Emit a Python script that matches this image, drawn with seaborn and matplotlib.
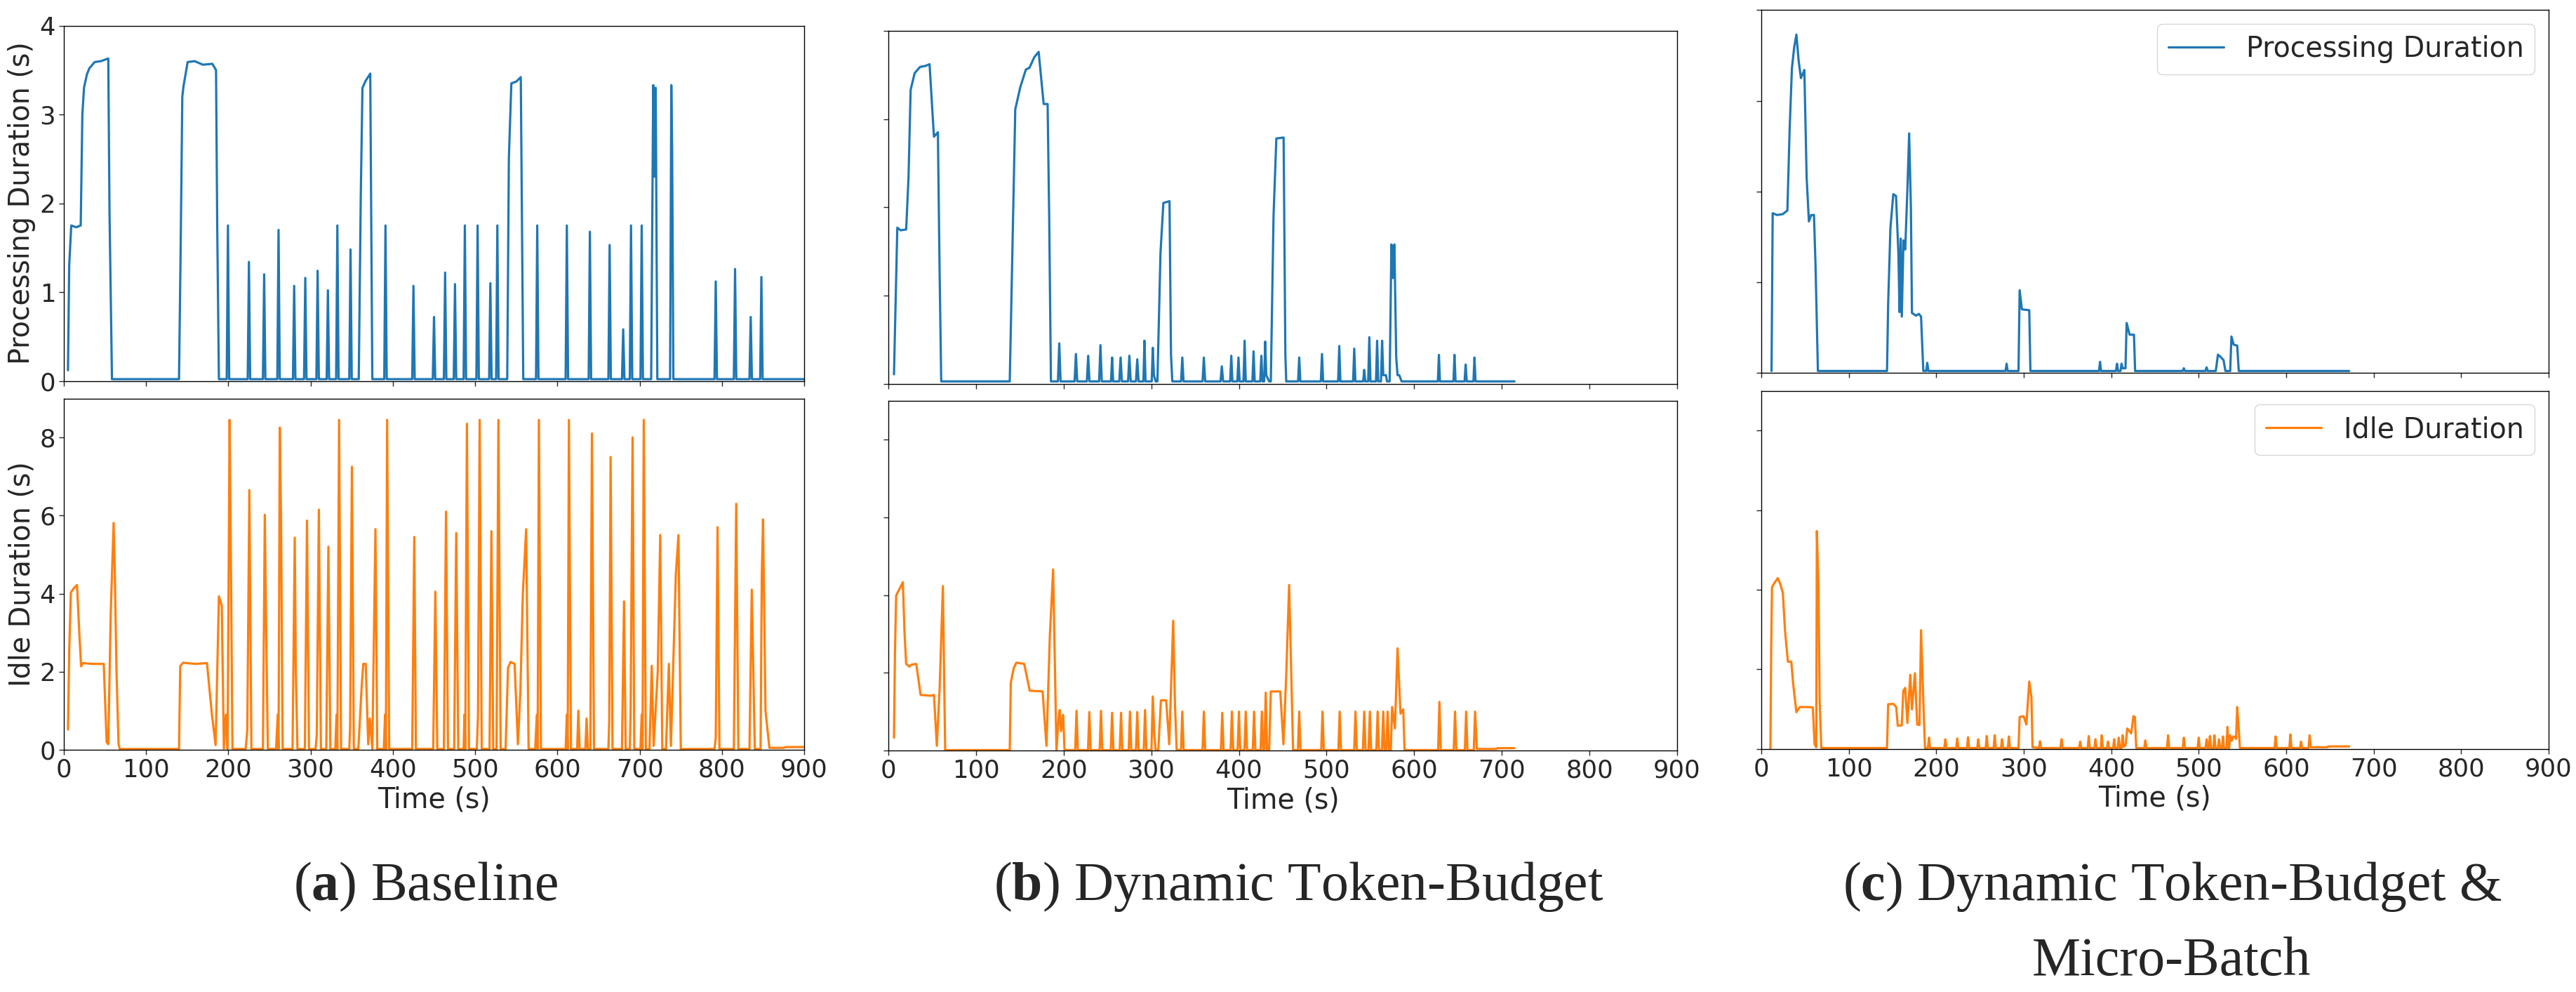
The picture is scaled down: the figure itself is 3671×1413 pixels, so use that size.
import numpy as np
import pandas as pd
import matplotlib
matplotlib.use("Agg")
import matplotlib.pyplot as plt
import seaborn as sns

# (time s, duration s) breakpoints
proc_a = [
    (5, 0.12), (6.5, 1.3), (9, 1.75), (15, 1.73), (20.5, 1.75), (22.5, 3.0), (24.5, 3.3), (28, 3.45),
    (31, 3.52), (37.5, 3.59), (45, 3.6), (54, 3.63), (55.5, 1.9), (58.5, 0.02),
    (140, 0.02), (142, 1.5), (144, 3.2), (145.5, 3.32), (150.5, 3.59), (159, 3.6), (169, 3.56),
    (180.5, 3.57), (185, 3.5), (186.5, 1.7), (188.5, 0.02),
    (198, 0.02), (199.5, 1.75), (201, 0.02), (223.5, 0.02), (225, 1.34), (226.5, 0.02),
    (242, 0.02), (243.5, 1.2), (245, 0.02), (259.5, 0.02), (261, 1.7), (262.5, 0.02),
    (278.5, 0.02), (280, 1.07), (281.5, 0.02), (292, 0.02), (293.5, 1.16), (295, 0.02),
    (307, 0.02), (308.5, 1.24), (310, 0.02), (319.5, 0.02), (321, 1.02), (322.5, 0.02),
    (331, 0.02), (332.5, 1.75), (334, 0.02), (347, 0.02), (348.5, 1.48), (350, 0.02),
    (358.5, 0.02), (361, 2.1), (363, 3.3), (367, 3.38), (372.5, 3.46), (375, 0.02),
    (389.5, 0.02), (391, 1.75), (392.5, 0.02), (423.5, 0.02), (425, 1.07), (426.5, 0.02),
    (448.5, 0.02), (450, 0.72), (451.5, 0.02), (462, 0.02), (463.5, 1.22), (465, 0.02),
    (474, 0.02), (475.5, 1.09), (477, 0.02), (486, 0.02), (487.5, 1.75), (489, 0.02),
    (501.5, 0.02), (503, 1.75), (504.5, 0.02), (517, 0.02), (518.5, 1.1), (520, 0.02),
    (525.5, 0.02), (527, 1.75), (528.5, 0.02),
    (539, 0.02), (541, 2.5), (544, 3.35), (550, 3.37), (555.5, 3.42), (558.5, 0.02),
    (574, 0.02), (575.5, 1.75), (577, 0.02), (610, 0.02), (611.5, 1.75), (613, 0.02),
    (638, 0.02), (639.5, 1.68), (641, 0.02), (662, 0.02), (663.5, 1.53), (665, 0.02),
    (678.5, 0.02), (680, 0.58), (681.5, 0.02), (688, 0.02), (689.5, 1.75), (691, 0.02),
    (701, 0.02), (702.5, 1.75), (704, 0.02),
    (714, 0.02), (716.5, 3.33), (718, 2.3), (719.5, 3.3), (721.5, 0.02),
    (737, 0.02), (738.5, 3.33), (739.5, 2.6), (741, 0.02), (744, 0.02),
    (791, 0.02), (792.5, 1.12), (794, 0.02), (814.5, 0.02), (816, 1.26), (817.5, 0.02),
    (833.5, 0.02), (835, 0.72), (836.5, 0.02), (846.5, 0.02), (848, 1.17), (849.5, 0.02),
    (900, 0.02),
]

idle_a = [
    (5, 0.52), (6.5, 2.5), (8.5, 4.03), (12.5, 4.15), (16, 4.22), (19, 2.9), (21, 2.14), (23, 2.22),
    (35, 2.2), (48.5, 2.2), (52, 0.2), (54, 0.14), (57, 3.5), (60.5, 5.81), (62, 4.5), (64, 2.0),
    (66.5, 0.14), (68, 0.02),
    (140, 0.02), (141.5, 2.14), (145, 2.23), (160, 2.2), (174, 2.22), (180, 0.9), (184.5, 0.12),
    (188.5, 3.93), (192, 3.69), (194.5, 0.03),
    (197, 0.9), (199, 0.02), (201.5, 8.45), (203, 5.0), (205, 0.02),
    (221, 0.02), (223, 0.5), (225.5, 6.65), (228, 0.02),
    (242, 0.02), (244.3, 6.02), (246, 3.0), (248, 0.02),
    (258, 0.02), (260, 0.9), (261, 0.02), (262.5, 8.25), (264, 6.0), (266, 0.02),
    (278, 0.02), (280.7, 5.43), (282, 2.0), (284, 0.02),
    (293, 0.02), (295.6, 5.87), (298, 0.02),
    (306, 0.02), (307.5, 0.4), (310, 6.15), (312.5, 0.02),
    (319, 0.02), (321.6, 5.2), (324, 0.02),
    (330, 0.02), (331.5, 0.9), (332.5, 0.02), (334.6, 8.45), (337, 0.02),
    (347, 0.02), (348, 0.6), (350.2, 7.25), (352.5, 0.02),
    (358, 0.02), (362, 1.6), (364, 2.2), (367, 2.2), (370, 0.14), (372, 0.8), (375, 0.02),
    (378.8, 5.65), (381, 0.02),
    (389, 0.02), (390.5, 0.9), (391.5, 0.02), (393, 8.45), (395.5, 0.02),
    (423.5, 0.02), (426, 5.45), (428, 0.02),
    (449, 0.02), (451.6, 4.05), (454, 0.02),
    (462, 0.02), (464.6, 6.1), (467, 0.02),
    (474.5, 0.02), (477, 5.55), (479.5, 0.02),
    (486, 0.02), (487, 0.9), (488, 0.02), (490, 8.35), (492.5, 0.02),
    (502, 0.02), (503.5, 0.9), (505.5, 8.45), (508, 0.02),
    (517.5, 0.02), (519.8, 5.6), (522, 0.02),
    (526, 0.02), (528.3, 8.45), (531, 0.02),
    (537, 0.02), (540, 2.1), (543, 2.25), (548, 2.2), (552, 0.14), (555, 1.5), (558, 4.0),
    (562, 5.65), (565, 0.02),
    (573, 0.02), (575, 0.9), (576, 0.02), (577.5, 8.45), (580, 0.02),
    (610, 0.02), (611.5, 0.9), (612.5, 0.02), (614, 8.45), (616.5, 0.02),
    (624, 0.02), (625.5, 1.0), (627, 0.02),
    (634, 0.02), (635.5, 0.8), (637, 0.02),
    (640, 0.02), (642, 8.1), (644.5, 0.02),
    (662, 0.02), (663, 0.7), (664.7, 7.5), (667, 0.02),
    (678.5, 0.02), (681, 3.8), (683, 0.02),
    (688, 0.02), (689, 0.9), (691.4, 8.0), (693.5, 0.02),
    (701, 0.02), (702.5, 0.9), (703.5, 0.02), (705, 8.45), (707.5, 0.02),
    (712, 0.02), (714.7, 2.15), (717, 0.1), (722, 2.0), (725, 5.5), (727.5, 0.02),
    (732, 0.02), (735.5, 2.2), (738, 0.1), (744, 4.5), (747.2, 5.5), (750, 0.02), (753.7, 0.02),
    (791, 0.02), (792.5, 0.3), (794.7, 5.7), (797, 0.02),
    (814.5, 0.02), (817.4, 6.3), (820, 0.02),
    (833.5, 0.02), (836.3, 4.1), (838, 2.2), (840, 0.02),
    (847, 0.02), (848.5, 4.5), (850, 5.9), (853, 1.0), (857.7, 0.05),
    (875, 0.05), (878, 0.07), (900, 0.07),
]

proc_b = [
    (6.4, 0.11), (7.5, 0.59), (10.2, 1.77), (14, 1.74), (20.3, 1.75), (23, 2.34), (25.4, 3.33),
    (30, 3.52), (36.2, 3.59), (42, 3.6), (47, 3.62), (52, 2.8), (56.5, 2.85), (58.5, 1.25), (60.3, 0.03),
    (138.5, 0.03), (141, 1.25), (144.8, 3.11), (150.5, 3.36), (156.9, 3.56), (161, 3.58), (166.5, 3.7),
    (171.5, 3.76), (177.2, 3.17), (181.7, 3.17), (183.5, 1.9), (185.5, 0.03),
    (193.5, 0.03), (195, 0.46), (196.5, 0.03), (212.5, 0.03), (214, 0.34), (215.5, 0.03),
    (226.5, 0.03), (228, 0.32), (229.5, 0.03), (240.5, 0.03), (242, 0.44), (243.5, 0.03),
    (254, 0.03), (255.3, 0.3), (256.5, 0.03), (263.5, 0.03), (265, 0.3), (266.5, 0.03),
    (273.5, 0.03), (275, 0.32), (276.5, 0.03), (282.5, 0.03), (284, 0.28), (285.5, 0.03),
    (291, 0.03), (292.2, 0.49), (293.5, 0.03), (300.5, 0.03), (301.7, 0.41), (303, 0.1), (305, 0.03),
    (307, 0.03), (310.5, 1.48), (313.8, 2.05), (320.8, 2.07), (322.5, 0.33), (324, 0.03),
    (334, 0.03), (335.4, 0.3), (336.8, 0.03), (358.5, 0.03), (360, 0.3), (361.5, 0.03),
    (379, 0.03), (380.5, 0.2), (382, 0.03), (390, 0.03), (391.3, 0.32), (392.6, 0.03),
    (398.2, 0.03), (399.5, 0.3), (400.8, 0.03), (405.2, 0.03), (406.5, 0.49), (407.8, 0.03),
    (415.4, 0.03), (416.7, 0.37), (418, 0.03), (424.3, 0.03), (425.6, 0.32), (426.8, 0.03),
    (428.8, 0.03), (430, 0.48), (431.2, 0.1), (434.5, 0.03),
    (436.4, 0.03), (439.5, 1.9), (442.7, 2.78), (451, 2.79), (453, 0.33), (454, 0.03),
    (467.5, 0.03), (468.8, 0.3), (470.1, 0.03), (493.5, 0.03), (494.8, 0.34), (496.1, 0.03),
    (513.2, 0.03), (514.5, 0.43), (515.8, 0.03), (530.3, 0.03), (531.6, 0.4), (532.9, 0.03),
    (541.8, 0.03), (543, 0.16), (544.2, 0.03), (547.5, 0.03), (548.8, 0.53), (550.1, 0.03),
    (556.4, 0.03), (557.7, 0.49), (559, 0.03), (562.1, 0.03), (563.4, 0.49), (564.7, 0.1),
    (567.8, 0.1), (569, 0.03),
    (572, 0.03), (574, 1.58), (575.5, 1.2), (577.4, 1.58), (579.5, 0.3), (581, 0.1), (583, 0.1),
    (585.6, 0.03),
    (627, 0.03), (628.2, 0.33), (629.4, 0.03), (644.8, 0.03), (646, 0.33), (647.2, 0.03),
    (657.5, 0.03), (658.7, 0.22), (660, 0.03), (667.6, 0.03), (668.8, 0.3), (670, 0.03),
    (714.5, 0.03),
]

idle_b = [
    (6.4, 0.33), (7.5, 2.5), (8.9, 3.99), (12.7, 4.16), (16.5, 4.33), (18.5, 3.0), (20.3, 2.23),
    (24, 2.16), (26.5, 2.21), (31.8, 2.23), (36.8, 1.43), (49, 1.41), (52, 1.43), (55.3, 0.12),
    (58.5, 1.6), (62.2, 4.23), (64.8, 0.01),
    (138.5, 0.01), (139.7, 1.74), (143, 2.12), (146, 2.26), (155, 2.23), (161.3, 1.54), (176, 1.52),
    (180.4, 0.12), (184.2, 2.92), (188, 4.66), (191.8, 0.01),
    (194.5, 0.9), (195.6, 1.04), (197, 0.5), (199.4, 0.92), (201, 0.01),
    (213.2, 0.01), (214.7, 1.02), (216.2, 0.01), (227.8, 0.01), (229.3, 0.99), (230.8, 0.01),
    (241.1, 0.01), (242.6, 1.02), (244.1, 0.01), (253.8, 0.01), (255.3, 0.97), (256.8, 0.01),
    (264, 0.01), (265.5, 0.97), (267, 0.01), (274.2, 0.01), (275.7, 1.0), (277.2, 0.01),
    (282.5, 0.01), (284, 0.99), (285.5, 0.01), (291.4, 0.01), (292.9, 1.04), (294.4, 0.01),
    (300.2, 0.01), (301.7, 1.39), (303.5, 0.4), (305, 0.01),
    (308, 0.01), (311, 1.29), (317, 1.29), (320.5, 0.16), (325, 3.34), (327, 1.2), (329, 0.01),
    (333.9, 0.01), (335.4, 1.0), (336.9, 0.01), (358.5, 0.01), (360, 1.0), (361.5, 0.01),
    (379.5, 0.01), (381, 0.97), (382.5, 0.01), (390.5, 0.01), (392, 1.0), (393.5, 0.01),
    (398.5, 0.01), (400, 1.0), (401.5, 0.01), (406.3, 0.01), (407.8, 1.0), (409.3, 0.01),
    (415.8, 0.01), (417.3, 1.0), (418.8, 0.01), (424.7, 0.01), (426.2, 1.0), (427.7, 0.01),
    (429.1, 0.01), (430.6, 1.49), (432.1, 0.01),
    (434.5, 0.01), (436.4, 1.52), (447.2, 1.52), (450.8, 0.16), (454, 1.95), (457.3, 4.26),
    (461.8, 0.01),
    (467.3, 0.01), (468.8, 1.0), (470.3, 0.01), (493.9, 0.01), (495.4, 1.0), (496.9, 0.01),
    (513.5, 0.01), (515, 1.0), (516.5, 0.01), (531.5, 0.01), (533, 1.0), (534.5, 0.01),
    (541.5, 0.01), (543, 1.0), (544.5, 0.01), (547.9, 0.01), (549.4, 1.0), (550.9, 0.01),
    (556.8, 0.01), (558.3, 1.0), (559.8, 0.01), (563.2, 0.01), (564.7, 1.0), (566.2, 0.01),
    (568.2, 0.01), (569.7, 1.0), (571.2, 0.01),
    (573.3, 0.01), (574.8, 1.12), (578, 0.57), (581, 2.63), (584.4, 0.95), (587.5, 1.06), (589, 0.01),
    (627.3, 0.01), (628.8, 1.25), (630.3, 0.01), (645.1, 0.01), (646.6, 1.0), (648.1, 0.01),
    (657.8, 0.01), (659.3, 1.0), (660.8, 0.01), (668, 0.01), (669.5, 1.0), (671.5, 0.04),
    (694, 0.04), (695, 0.06), (714.5, 0.06),
]

proc_c = [
    (11.7, 0.02), (13, 1.76), (18, 1.74), (24.5, 1.75), (29.8, 1.79), (32.4, 2.69), (35, 3.36),
    (37.6, 3.59), (40.1, 3.73), (42.7, 3.44), (45.3, 3.25), (49.2, 3.34), (51.8, 2.16), (54.4, 1.67),
    (57, 1.74), (60.2, 1.74), (62, 1.18), (64.7, 0.02),
    (143.7, 0.02), (145, 0.76), (147.6, 1.6), (150.9, 1.97), (154, 1.95), (156.7, 1.32), (158, 0.67),
    (159.3, 1.48), (160.6, 0.62), (162.5, 1.46), (164.5, 1.36), (167, 2.02), (169, 2.64), (171, 1.82),
    (172.2, 0.66), (176.8, 0.63), (180, 0.65), (182.6, 0.62), (185.2, 0.02),
    (188.5, 0.02), (189.7, 0.11), (191, 0.02), (279.2, 0.02), (280.4, 0.1), (281.6, 0.02),
    (294, 0.02), (295.3, 0.91), (297.9, 0.7), (306.3, 0.69), (307.6, 0.02),
    (386, 0.02), (387.2, 0.12), (388.4, 0.02), (405.4, 0.02), (406.6, 0.1), (407.8, 0.02),
    (410.6, 0.02), (411.8, 0.1), (413, 0.05), (416.3, 0.05), (417.6, 0.55), (421, 0.42), (426, 0.42),
    (427.3, 0.02),
    (481.8, 0.02), (483, 0.05), (484.2, 0.02), (507.8, 0.02), (509, 0.06), (510.2, 0.02),
    (519.5, 0.02), (522, 0.2), (524.5, 0.18), (528.4, 0.14), (530.5, 0.02),
    (536, 0.02), (537.4, 0.4), (540, 0.31), (544, 0.3), (545.8, 0.02),
    (672, 0.02),
]

idle_c = [
    (10.4, 0.0), (11.3, 2.54), (12.2, 4.06), (14.8, 4.16), (18.8, 4.29), (22, 4.12), (24.6, 3.92),
    (27.2, 2.94), (30.4, 2.19), (34.3, 2.19), (36.3, 1.66), (40.1, 0.92), (44, 1.05), (51.8, 1.05),
    (58.9, 1.04), (60.9, 0.11), (62.8, 0.04), (63.5, 5.47), (65.4, 4.02), (66.7, 1.19), (68.6, 0.02),
    (143.7, 0.02), (145, 1.12), (150.9, 1.13), (154.2, 1.05), (156, 0.58), (160.6, 0.59), (162.3, 1.46),
    (164.5, 1.53), (167, 0.65), (170.3, 1.86), (172.2, 0.99), (175.6, 1.9), (178.2, 0.61), (180.8, 0.6),
    (182.6, 2.98), (185.2, 1.19), (187.1, 0.02),
    (190.5, 0.02), (191.7, 0.28), (192.9, 0.02), (209.2, 0.02), (210.4, 0.24), (211.6, 0.02),
    (222.8, 0.02), (224, 0.26), (225.2, 0.02), (235.1, 0.02), (236.3, 0.29), (237.5, 0.02),
    (246.8, 0.02), (248, 0.24), (249.2, 0.02), (256.5, 0.02), (257.7, 0.32), (258.9, 0.02),
    (265.6, 0.02), (266.8, 0.34), (268, 0.02), (274, 0.02), (275.2, 0.24), (276.4, 0.02),
    (281.8, 0.02), (283, 0.31), (284.2, 0.02),
    (294, 0.02), (295.3, 0.8), (299.8, 0.82), (303, 0.61), (306.3, 1.69), (308.8, 1.29), (310, 0.04),
    (317.4, 0.02), (318.6, 0.19), (319.8, 0.02), (342, 0.02), (343.2, 0.24), (344.4, 0.02),
    (363.3, 0.02), (364.5, 0.18), (365.7, 0.02), (373.1, 0.02), (374.3, 0.32), (375.5, 0.02),
    (380.8, 0.02), (382, 0.24), (383.2, 0.02), (388, 0.02), (389.2, 0.34), (390.4, 0.02),
    (395.1, 0.02), (396.3, 0.18), (397.5, 0.02), (402.2, 0.02), (403.4, 0.24), (404.6, 0.02),
    (407.4, 0.02), (408.6, 0.28), (409.8, 0.02), (411.8, 0.02), (413, 0.34), (414.2, 0.05),
    (416.5, 0.1), (418.3, 0.51), (422.8, 0.39), (425.4, 0.82), (427, 0.8), (428.6, 0.02),
    (437.8, 0.02), (439, 0.21), (440.2, 0.02), (463.8, 0.02), (465, 0.34), (466.2, 0.02),
    (481.8, 0.02), (483, 0.28), (484.2, 0.02), (498.8, 0.02), (500, 0.28), (501.2, 0.02),
    (507.8, 0.02), (509, 0.24), (510.2, 0.02), (511.6, 0.02), (512.8, 0.32), (514, 0.02),
    (516.8, 0.02), (518, 0.34), (519.2, 0.02), (522, 0.02), (523.2, 0.24), (524.4, 0.02),
    (526.5, 0.02), (527.7, 0.31), (528.9, 0.02), (531.7, 0.02), (532.9, 0.55), (534.1, 0.02),
    (534.8, 0.02), (536, 0.34), (537.5, 0.2), (539.4, 0.31), (541, 0.3), (542.7, 0.25),
    (544, 1.05), (545.5, 0.58), (547.1, 0.02),
    (586.7, 0.02), (587.9, 0.31), (589.1, 0.02), (603.6, 0.02), (604.8, 0.36), (606, 0.02),
    (615.8, 0.02), (617, 0.18), (618.2, 0.02), (625.6, 0.02), (626.8, 0.34), (628, 0.04),
    (647, 0.04), (648, 0.06), (672, 0.06),
]

CAPTIONS = [r"($\mathbf{a}$) Baseline", r"($\mathbf{b}$) Dynamic Token-Budget",
            r"($\mathbf{c}$) Dynamic Token-Budget &"]
CAPTION2 = "Micro-Batch"
X_TICKS = list(range(0, 901, 100))
PROC_TICKS = [0, 1, 2, 3, 4]
IDLE_TICKS = [0, 2, 4, 6, 8]

BLUE = "#1f77b4"
ORANGE = "#ff7f0e"

sns.set_style("ticks")
plt.rcParams["font.family"] = ["DejaVu Sans"]
plt.rcParams["mathtext.fontset"] = "custom"
plt.rcParams["mathtext.rm"] = "Liberation Serif"
plt.rcParams["mathtext.bf"] = "Liberation Serif:bold"
plt.rcParams["axes.linewidth"] = 1.0
plt.rcParams["axes.edgecolor"] = "black"

W, H = 3671, 1413
fig = plt.figure(figsize=(W / 100, H / 100), dpi=100)


def box(x0, x1, y0, y1):
    # pixel box -> figure fraction
    return [x0 / W, 1 - y1 / H, (x1 - x0) / W, (y1 - y0) / H]


layout = [
    (box(91, 1146, 36.5, 542.6), box(91, 1146, 567.5, 1068)),
    (box(1266, 2390, 43.7, 547), box(1266, 2390, 571, 1069)),
    (box(2510, 3632, 14.4, 531), box(2510, 3632, 556.5, 1066.6)),
]
series = [(proc_a, idle_a), (proc_b, idle_b), (proc_c, idle_c)]

for col, ((top_box, bot_box), (proc, idle)) in enumerate(zip(layout, series)):
    ax_t = fig.add_axes(top_box)
    ax_b = fig.add_axes(bot_box)
    dft = pd.DataFrame(proc, columns=["t", "v"])
    dfb = pd.DataFrame(idle, columns=["t", "v"])
    sns.lineplot(data=dft, x="t", y="v", ax=ax_t, color=BLUE, lw=2.3,
                 estimator=None, sort=False, legend=False)
    sns.lineplot(data=dfb, x="t", y="v", ax=ax_b, color=ORANGE, lw=2.3,
                 estimator=None, sort=False, legend=False)

    for ax, ticks, top in ((ax_t, PROC_TICKS, 4), (ax_b, IDLE_TICKS, 9)):
        ax.set_xlim(0, 900)
        ax.set_ylim(0, top)
        ax.set_xticks(X_TICKS)
        ax.set_yticks(ticks)
        ax.tick_params(labelsize=25.5, length=5, width=1.0)
        ax.set_xlabel("")
        ax.set_ylabel("")
        for s in ax.spines.values():
            s.set_visible(True)

    ax_t.set_xticklabels([])
    ax_b.set_xlabel("Time (s)", fontsize=28.5)
    if col == 0:
        ax_t.set_ylabel("Processing Duration (s)", fontsize=28.5)
        ax_b.set_ylabel("Idle Duration (s)", fontsize=28.5)
    else:
        ax_t.set_yticklabels([])
        ax_b.set_yticklabels([])

    if col == 2:
        ax_t.lines[0].set_label("Processing Duration")
        ax_b.lines[0].set_label("Idle Duration")
        for ax in (ax_t, ax_b):
            ax.legend(loc="upper right", fontsize=28.5, frameon=True, fancybox=True,
                      edgecolor="0.8", framealpha=0.8)

cap_x = [607 / W, 1851 / W, 3096 / W]
for x, txt in zip(cap_x, CAPTIONS):
    fig.text(x, 1 - 1282 / H, txt, ha="center", va="baseline",
             fontsize=56, family="Liberation Serif")
fig.text(3094 / W, 1 - 1389 / H, CAPTION2, ha="center", va="baseline",
         fontsize=56, family="Liberation Serif")

fig.savefig("out.png", dpi=100)
